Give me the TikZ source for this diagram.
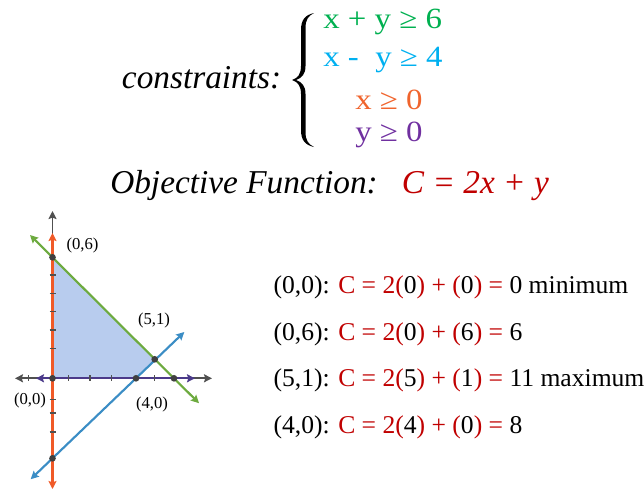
\documentclass[tikz,border=0pt]{standalone}
\usepackage{fontspec}
\setmainfont{Liberation Serif}
\usetikzlibrary{arrows.meta}
\definecolor{cred}{HTML}{C00000}
\definecolor{cgreen}{HTML}{00B050}
\definecolor{ccyan}{HTML}{00B0F0}
\definecolor{corange}{HTML}{F0642D}
\definecolor{cpurple}{HTML}{7030A0}
\definecolor{lorange}{HTML}{F05A28}
\definecolor{lgreen}{HTML}{6DAA3F}
\definecolor{lblue}{HTML}{3B8DC5}
\definecolor{lpurple}{HTML}{4B3A8A}
\definecolor{axisgray}{HTML}{505050}
\definecolor{dotgray}{HTML}{404040}
\definecolor{regionfill}{HTML}{B8CCEE}
\newcommand{\rc}[1]{\textcolor{cred}{#1}}
\begin{document}
\begin{tikzpicture}[x=0.75pt,y=-0.75pt,
  dbl/.style={line width=1.6pt,{Stealth[length=6pt,width=6pt,inset=1pt]}-{Stealth[length=6pt,width=6pt,inset=1pt]}},
  sgl/.style={line width=1.5pt,-{Stealth[length=6pt,width=6pt,inset=1pt]}},
  tickmark/.style={draw=axisgray,line width=0.9pt},
  dot/.style={circle,fill=dotgray,inner sep=0pt,minimum size=5pt},
  lbl/.style={font=\fontsize{12.5}{14}\selectfont,inner sep=0pt},
  title/.style={font=\fontsize{25}{30}\selectfont\itshape,inner sep=0pt,anchor=base west},
  cons/.style={font=\fontsize{22}{26}\selectfont,inner sep=0pt,anchor=base west},
  evalline/.style={font=\fontsize{19.2}{23}\selectfont,inner sep=0pt,anchor=base west}]
\useasboundingbox (0,0) rectangle (644,490);
% key points
\coordinate (O) at (52.5,378.3);
\coordinate (P06) at (52.5,257.3);
\coordinate (P51) at (154.7,359.3);
\coordinate (P40) at (136,378.3);
\coordinate (P60) at (174,378.3);
\coordinate (P0m4) at (52.5,458.3);
% region
\fill[regionfill] (O) -- (P06) -- (P51) -- (P40) -- cycle;
% axes
\coordinate (xl) at (15,378.3); \coordinate (xr) at (212,378.3);
\coordinate (yt) at (52.5,211); \coordinate (yb) at (52.5,470);
\draw[dbl,axisgray,line width=1.4pt] (xl) -- (xr);
\draw[sgl,axisgray,line width=1.4pt] (yb) -- (yt);
% constraint lines
\coordinate (pl) at (36,378.3); \coordinate (pr) at (195,378.3);
\draw[dbl,lpurple] (pl) -- (pr);
\coordinate (ot) at (52.5,233); \coordinate (ob) at (52.5,489);
\draw[dbl,lorange] (ot) -- (ob);
\coordinate (gt) at (30,235); \coordinate (gb) at (199,403.2);
\draw[dbl,lgreen] (gt) -- (gb);
\coordinate (bb) at (30.7,479.2); \coordinate (bt) at (184.3,332);
\draw[dbl,lblue] (bb) -- (bt);
% ticks
\foreach \tx in {28.3,68.3,90,111.7,154.3}
  \draw[tickmark] (\tx,375.3) -- (\tx,381.3);
\foreach \ty in {275,293.3,311.7,330,348.3,399.3,413,432}
  \draw[tickmark] (49.5,\ty) -- (55.5,\ty);
% dots
\foreach \p in {O,P06,P51,P40,P60,P0m4}
  \node[dot] at (\p) {};
% point labels
\node[lbl] (l06) at (82.5,245.5) {(0,6)};
\node[lbl] (l51) at (154,320.5) {(5,1)};
\node[lbl] (l00) at (30,400.5) {(0,0)};
\node[lbl] (l40) at (152,404) {(4,0)};
% constraints
\node[title] (ct) at (121.7,88.3) {constraints:};
\fill (314,13) .. controls (305,15) and (301,20) .. (301,30) -- (301,66)
  .. controls (301,74) and (298,78) .. (292,80)
  .. controls (298,82) and (301,86) .. (301,94) -- (301,130)
  .. controls (301,140) and (305,145) .. (314,147)
  .. controls (308,144) and (305.5,140) .. (305.5,132) -- (305.5,94)
  .. controls (305.5,86) and (302,82) .. (296,80)
  .. controls (302,78) and (305.5,74) .. (305.5,66) -- (305.5,28)
  .. controls (305.5,20) and (308,16) .. (314,13) -- cycle;
\node[cons,text=cgreen] (c1) at (323,28) {\scalebox{1.12}[1]{x + y ≥ 6}};
\node[cons,text=ccyan] (c2) at (323,66) {\scalebox{1.12}[1]{x -\ \ y ≥ 4}};
\node[cons,text=corange] (c3) at (355,109) {\scalebox{1.12}[1]{x ≥ 0}};
\node[cons,text=cpurple] (c4) at (355,141) {\scalebox{1.12}[1]{y ≥ 0}};
% objective
\node[title] (obj) at (110,193) {Objective Function:};
\node[title,text=cred] (objf) at (401.7,193) {C = 2x + y};
% evaluations
\node[evalline] (e1) at (273.3,293.3) {(0,0): \rc{C = 2(}0\rc{) + (}0\rc{) =} 0 minimum};
\node[evalline] (e2) at (273.3,340) {(0,6): \rc{C = 2(}0\rc{) + (}6\rc{) =} 6};
\node[evalline] (e3) at (273.3,386.7) {(5,1): \rc{C = 2(}5\rc{) + (}1\rc{) =} 11 maximum};
\node[evalline] (e4) at (273.3,433.3) {(4,0): \rc{C = 2(}4\rc{) + (}0\rc{) =} 8};
\end{tikzpicture}
\end{document}
